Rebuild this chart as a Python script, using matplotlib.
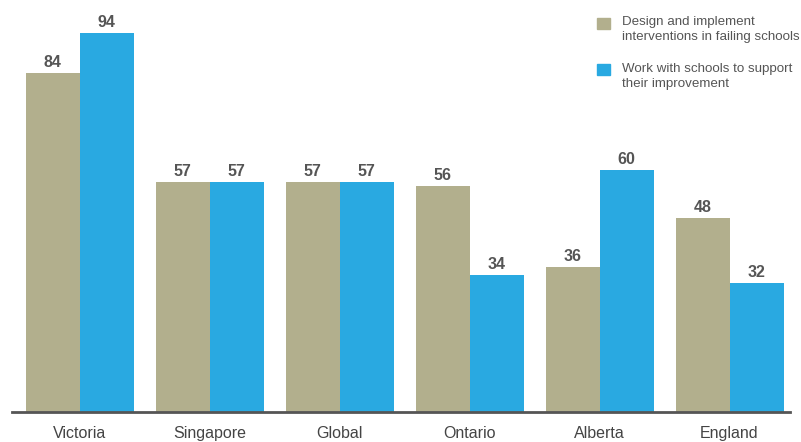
import matplotlib.pyplot as plt
from matplotlib.patches import Rectangle
import numpy as np

plt.rcParams['font.family'] = ['Liberation Sans', 'DejaVu Sans']

# regions and shares of each approach
regions = ['Victoria', 'Singapore', 'Global', 'Ontario', 'Alberta', 'England']
failing = [84, 57, 57, 56, 36, 48]
improvement = [94, 57, 57, 34, 60, 32]
labels = ['Design and implement\ninterventions in failing schools',
          'Work with schools to support\ntheir improvement']

tan = '#b2af8d'
blue = '#29a9e1'

W, H = 801, 442
fig = plt.figure(figsize=(W / 100, H / 100), dpi=100)
ax = fig.add_axes([12 / W, 30 / H, 778 / W, 412 / H])

x = np.arange(len(regions))
w = 0.415
b1 = ax.bar(x - w / 2, failing, w, color=tan)
b2 = ax.bar(x + w / 2, improvement, w, color=blue)

for bars, vals in ((b1, failing), (b2, improvement)):
    for rect, v in zip(bars, vals):
        ax.text(rect.get_x() + rect.get_width() / 2, v + 0.8, str(v),
                ha='center', va='bottom', fontsize=11.5, fontweight='bold',
                color='#555555')

ax.set_xlim(-0.52, 5.465)
ax.set_ylim(0, 102.2)
ax.set_yticks([])
ax.set_xticks(x)
ax.set_xticklabels(regions, fontsize=11.5, color='#444444')
ax.tick_params(axis='x', length=0, pad=10)
for s in ('top', 'right', 'left'):
    ax.spines[s].set_visible(False)
ax.spines['bottom'].set_color('#555555')
ax.spines['bottom'].set_linewidth(2)

# legend drawn by hand in pixel positions: swatch top and first baseline
for color, label, sq_top, base in ((tan, labels[0], 18, 25),
                                    (blue, labels[1], 64, 72)):
    fig.patches.append(Rectangle((597 / W, 1 - (sq_top + 11) / H),
                                 13 / W, 11 / H, color=color,
                                 transform=fig.transFigure))
    for i, line in enumerate(label.split('\n')):
        fig.text(622 / W, 1 - (base + 15 * i) / H, line, fontsize=9.6,
                 color='#555555', va='baseline', ha='left')

fig.savefig('out.png', dpi=100)
